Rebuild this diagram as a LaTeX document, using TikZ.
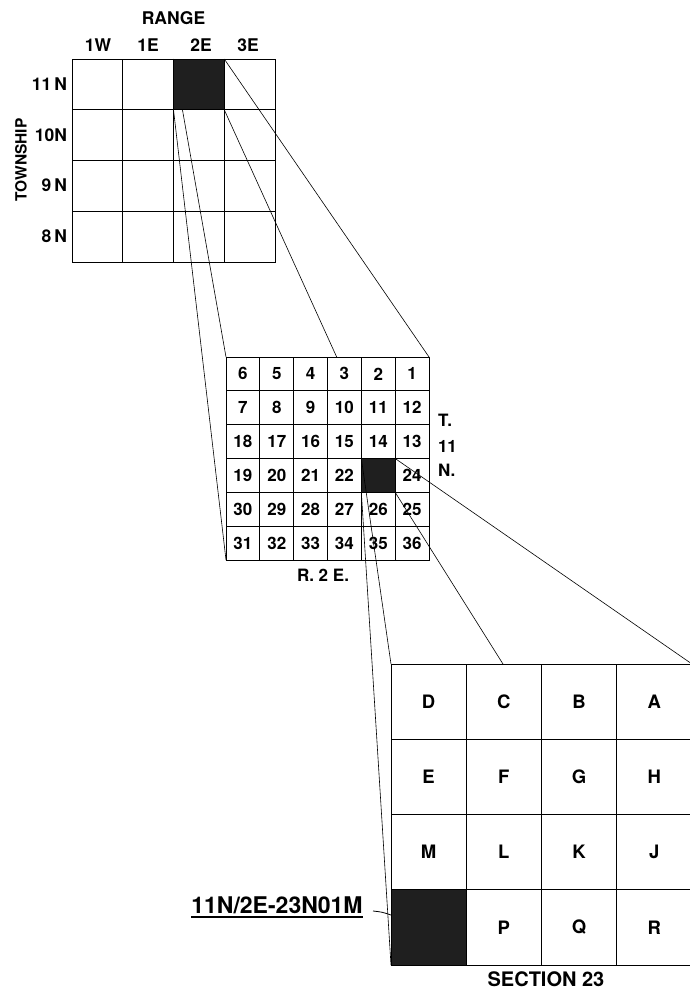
\documentclass[tikz,border=0pt]{standalone}
\usepackage{fontspec}
\setmainfont{TeX Gyre Heros}
\newcommand{\fTop}{\fontsize{17.5}{19}\selectfont\bfseries}
\newcommand{\fTwn}{\fontsize{15.5}{17}\selectfont\bfseries}
\newcommand{\fMid}{\fontsize{17}{19}\selectfont\bfseries}
\newcommand{\fBot}{\fontsize{18.5}{20}\selectfont\bfseries}
\newcommand{\fSec}{\fontsize{20}{22}\selectfont\bfseries}
\newcommand{\fBig}{\fontsize{23}{25}\selectfont\bfseries}
\begin{document}
\begin{tikzpicture}[x=1pt,y=-1pt,
  cell/.style={draw=black, fill=white, line width=0.8pt, inner sep=0pt, outer sep=0pt, minimum size=#1},
  blackcell/.style={draw=black, fill=black!88, line width=0.8pt, inner sep=0pt, outer sep=0pt, minimum size=#1},
  conn/.style={line width=0.6pt, black},
  lbl/.style={inner sep=0pt, outer sep=0pt}]
\fill[white] (0,0) rectangle (689,993);
\useasboundingbox (0,0) rectangle (689,993);

% ---------- top grid (townships) ----------
\foreach \r in {0,...,3}{
  \foreach \c in {0,...,3}{
    \node[cell=50.75pt] (t-\r-\c) at ({72+50.75*\c+25.375},{59+50.75*\r+25.375}) {};
  }
}
\node[blackcell=50.75pt] (tb) at (t-0-2) {};

% middle grid corners
\coordinate (m-nw) at (226,357);
\coordinate (m-ne) at (429,357);
\coordinate (m-sw) at (226,560);
\coordinate (m-se) at (429,560);

\draw[conn] (tb.north east) -- (m-ne);
\draw[conn] (tb.south east) -- (m-se);
\draw[conn] (tb.north west) -- (m-nw);
\draw[conn] (tb.south west) -- (m-sw);
\node[blackcell=50.75pt] at (t-0-2) {};

% ---------- middle grid (sections) ----------
\foreach \r/\row in {0/{6,5,4,3,2,1},1/{7,8,9,10,11,12},2/{18,17,16,15,14,13},3/{19,20,21,22,,24},4/{30,29,28,27,26,25},5/{31,32,33,34,35,36}}{
  \foreach \n [count=\c from 0] in \row {
    \node[cell=33.833pt, font=\fMid] (m-\r-\c) at ({226+33.833*\c+16.917},{357+33.833*\r+16.917}) {\n};
  }
}
\node[blackcell=33.833pt] (mb) at (m-3-4) {};

% bottom grid corners
\coordinate (b-nw) at (391,664);
\coordinate (b-ne) at (692,664);
\coordinate (b-sw) at (391,965);
\coordinate (b-se) at (692,965);

\draw[conn] (mb.north east) -- (b-ne);
\draw[conn] (mb.south east) -- (b-se);
\draw[conn] (mb.north west) -- (b-nw);
\draw[conn] (mb.south west) -- (b-sw);

% ---------- bottom grid (quarter-quarter tracts) ----------
\foreach \r/\row in {0/{D,C,B,A},1/{E,F,G,H},2/{M,L,K,J},3/{,P,Q,R}}{
  \foreach \n [count=\c from 0] in \row {
    \node[cell=75.25pt, font=\fBot] (b-\r-\c) at ({391+75.25*\c+37.625},{664+75.25*\r+37.625}) {\n};
  }
}
\node[blackcell=75.25pt] (nb) at (b-3-0) {};

% ---------- labels ----------
\node[lbl, font=\fTop] (range) at (173.5,18) {RANGE};
\node[lbl, font=\fTop] (r1w) at (98,45) {1W};
\node[lbl, font=\fTop] (r1e) at (148,45) {1E};
\node[lbl, font=\fTop] (r2e) at (201,45) {2E};
\node[lbl, font=\fTop] (r3e) at (248,45) {3E};
\node[lbl, font=\fTop, anchor=east] (t11) at (67,84) {11\,N};
\node[lbl, font=\fTop, anchor=east] (t10) at (67,135) {10N};
\node[lbl, font=\fTop, anchor=east] (t9) at (67,185) {9\,N};
\node[lbl, font=\fTop, anchor=east] (t8) at (67,236) {8\,N};
\node[lbl, font=\fTwn, rotate=90] (twp) at (21,160) {TOWNSHIP};

\node[lbl, font=\fMid, anchor=west] (tT) at (438,420) {T.};
\node[lbl, font=\fMid, anchor=west] (t11b) at (438,446) {11};
\node[lbl, font=\fMid, anchor=west] (tN) at (438,470) {N.};
\node[lbl, font=\fMid] (r2eb) at (323,575) {R. 2 E.};

\node[lbl, font=\fSec] (sec) at (546,979) {SECTION 23};

\node[lbl, font=\fBig] (code) at (277,905) {11N/2E-23N01M};
\draw[line width=1.4pt] ([yshift=-3.5pt]code.south west) -- ([yshift=-3.5pt]code.south east);
\coordinate (leadA) at (373,911);
\draw[conn, line width=0.8pt] (leadA) .. controls (382,912) .. (nb.west |- 0,915);
\end{tikzpicture}
\end{document}
